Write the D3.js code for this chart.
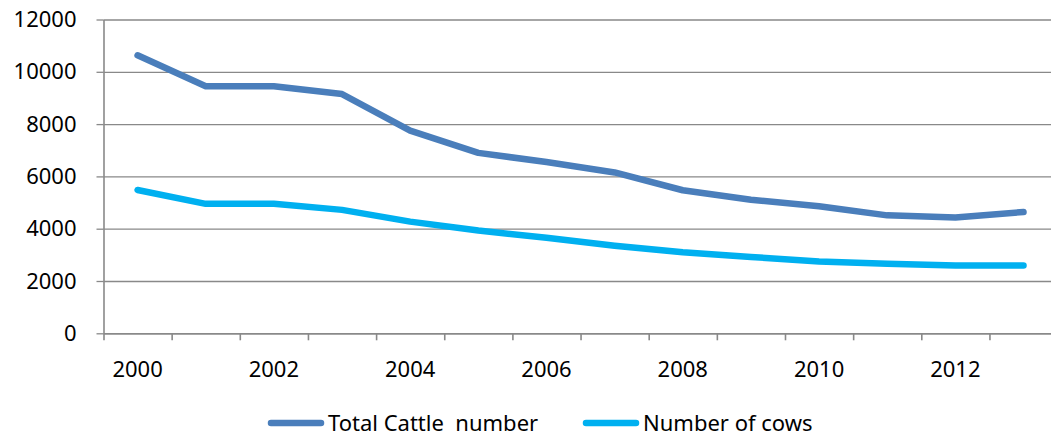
<!DOCTYPE html>
<html>
<head>
<meta charset="utf-8">
<script src="https://cdn.jsdelivr.net/npm/d3@7"></script>
<style>
  html, body { margin: 0; padding: 0; background: #fff; }
  svg { display: block; font-family: "Noto Sans", "Open Sans", sans-serif; }
</style>
</head>
<body>
<svg id="chart" width="1051" height="438"></svg>
<script>
// Cattle herd figures, 2000–2013
const years = [2000, 2001, 2002, 2003, 2004, 2005, 2006, 2007, 2008, 2009, 2010, 2011, 2012, 2013];
const totalCattle = [10630, 9450, 9450, 9150, 7750, 6900, 6550, 6150, 5470, 5110, 4860, 4510, 4430, 4640];
const cows = [5480, 4950, 4950, 4720, 4270, 3930, 3650, 3350, 3100, 2920, 2750, 2660, 2590, 2590];
const yTicks = [0, 2000, 4000, 6000, 8000, 10000, 12000];
const xLabels = [2000, 2002, 2004, 2006, 2008, 2010, 2012];
const seriesNames = ["Total Cattle  number", "Number of cows"];
const seriesColors = ["#4a7ebb", "#00b0f0"];

const svg = d3.select("#chart");
const plotLeft = 103.5, plotRight = 1057.6, plotTop = 19.5, plotBottom = 333.3;
const axisColor = "#898989";

const x = d3.scaleBand().domain(years).range([plotLeft, plotRight]).padding(0);
const xEdge = d3.scaleLinear().domain([0, years.length]).range([plotLeft, plotRight]);
const y = d3.scaleLinear().domain([0, 12000]).range([plotBottom, plotTop]);

// horizontal gridlines
svg.append("g")
  .attr("transform", `translate(${plotLeft},0)`)
  .call(d3.axisLeft(y).tickValues(yTicks).tickSize(-(plotRight - plotLeft)).tickFormat(""))
  .call(g => g.select(".domain").remove())
  .call(g => g.selectAll("line").attr("stroke", axisColor).attr("stroke-width", 1.3));

// y axis with outer ticks and labels
svg.append("g")
  .attr("transform", `translate(${plotLeft},0)`)
  .call(d3.axisLeft(y).tickValues(yTicks).tickFormat(d3.format("d"))
    .tickSize(7).tickPadding(20).tickSizeOuter(0))
  .call(g => g.select(".domain").attr("stroke", axisColor).attr("stroke-width", 1.6))
  .call(g => g.selectAll("line").attr("stroke", axisColor).attr("stroke-width", 1.3))
  .call(g => g.selectAll("text")
    .attr("fill", "#000").attr("font-size", "22px")
    .attr("font-family", "'Noto Sans', sans-serif"));

// x axis: tick marks on category boundaries
svg.append("g")
  .attr("transform", `translate(0,${plotBottom})`)
  .call(d3.axisBottom(xEdge).tickValues(d3.range(years.length + 1)).tickSize(7).tickSizeOuter(0).tickFormat(""))
  .call(g => g.select(".domain").attr("stroke", axisColor).attr("stroke-width", 1.6))
  .call(g => g.selectAll("line").attr("stroke", axisColor).attr("stroke-width", 1.6));

// x axis labels at category centres, every other year
svg.append("g")
  .attr("transform", `translate(0,${plotBottom})`)
  .call(d3.axisBottom(x).tickValues(xLabels).tickSize(0).tickPadding(28))
  .call(g => g.select(".domain").remove())
  .call(g => g.selectAll("text")
    .attr("fill", "#000").attr("font-size", "22px")
    .attr("font-family", "'Noto Sans', sans-serif"));

// series lines
const line = d3.line()
  .x((d, i) => x(years[i]) + x.bandwidth() / 2)
  .y(d => y(d));

[totalCattle, cows].forEach((vals, k) => {
  svg.append("path")
    .datum(vals)
    .attr("d", line)
    .attr("fill", "none")
    .attr("stroke", seriesColors[k])
    .attr("stroke-width", 6.5)
    .attr("stroke-linejoin", "round")
    .attr("stroke-linecap", "round");
});

// legend
const legendItems = [{ x: 268, name: seriesNames[0], color: seriesColors[0] },
                     { x: 583, name: seriesNames[1], color: seriesColors[1] }];
const lg = svg.append("g").attr("transform", "translate(0,423)");
legendItems.forEach(it => {
  lg.append("line")
    .attr("x1", it.x + 3).attr("x2", it.x + 53)
    .attr("y1", 0).attr("y2", 0)
    .attr("stroke", it.color).attr("stroke-width", 6.5).attr("stroke-linecap", "round");
  lg.append("text")
    .attr("x", it.x + 60).attr("y", 8)
    .attr("font-size", "22px").attr("fill", "#000")
    .attr("xml:space", "preserve")
    .style("white-space", "pre")
    .text(it.name);
});
</script>
</body>
</html>
